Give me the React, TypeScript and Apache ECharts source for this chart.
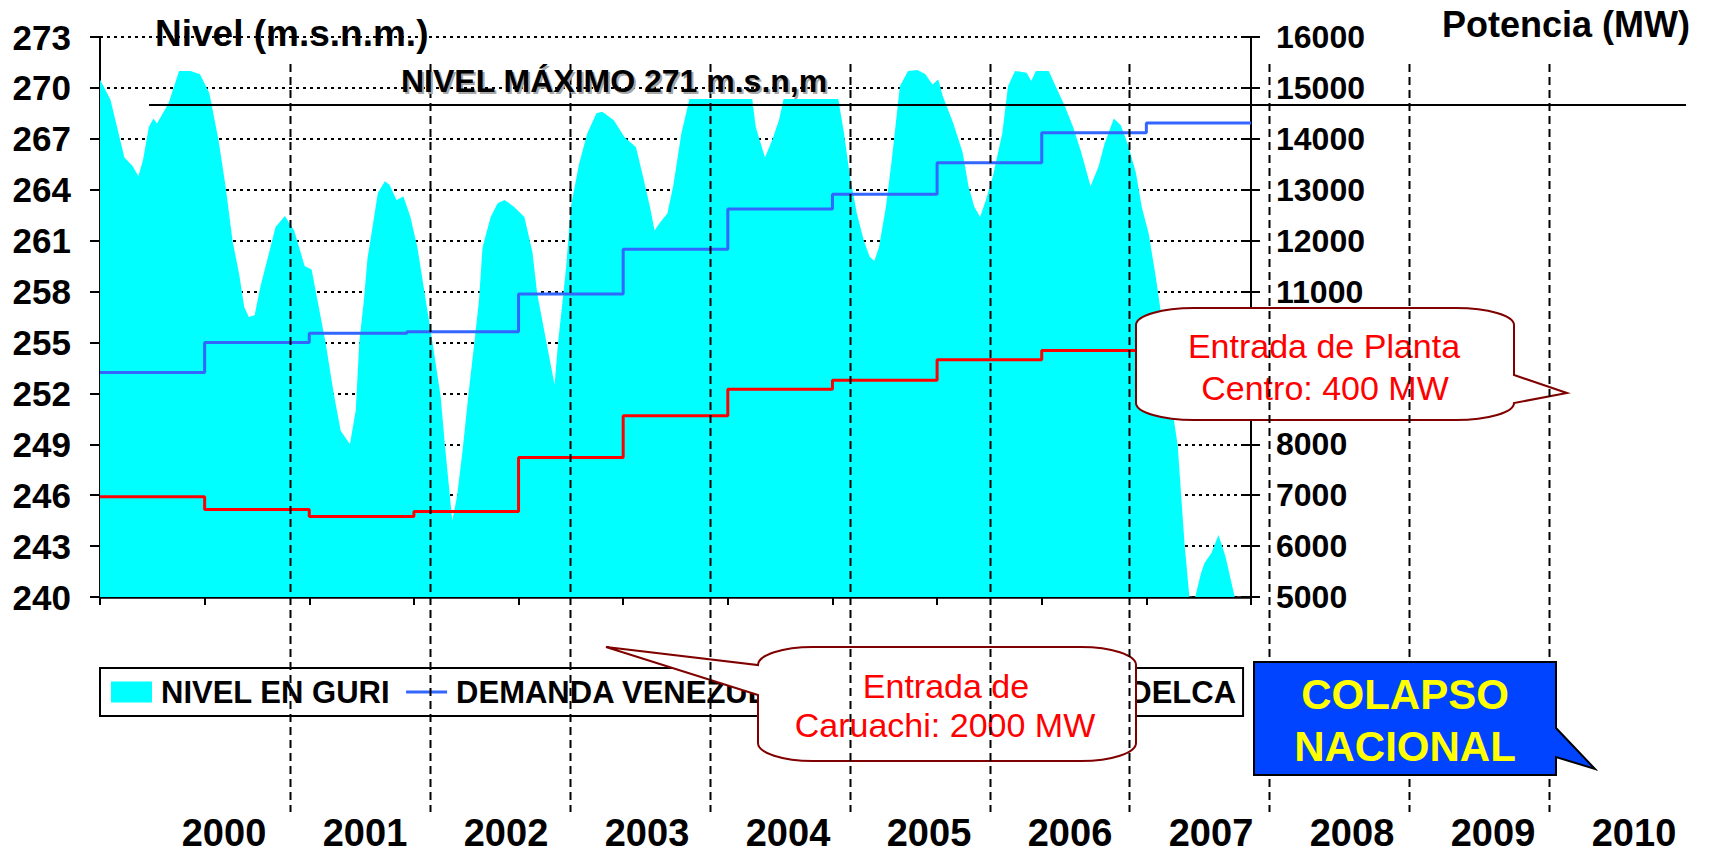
import React, { useEffect, useRef } from "react";
import * as echarts from "echarts";

// ---------- DATA ----------
// Months since the start of the series (axis ticks every 9 months)
const MESES_NIVEL = [
  0, 0.9, 2.1, 2.8, 3.3, 3.7, 4.2, 4.6, 4.9, 5.9, 6.8, 7.8, 8.6, 9.4, 10.2, 10.8, 11.4, 12.0, 12.4, 12.8,
  13.3, 13.8, 14.4, 15.1, 15.9, 16.7, 17.6, 18.2, 18.7, 19.4, 20.1, 20.7, 21.5, 22.0, 22.3, 22.7, 23.0,
  23.9, 24.5, 24.9, 25.5, 26.1, 26.7, 27.3, 27.9, 28.6, 29.3, 29.7, 30.1, 30.3, 30.7, 31.2, 31.7, 32.2,
  32.6, 32.9, 33.6, 34.2, 34.8, 35.6, 36.5, 37.2, 37.6, 38.4, 39.1, 39.4, 39.8, 40.1, 40.5, 41.2, 41.9,
  42.7, 43.2, 44.2, 45.1, 46.1, 46.7, 47.3, 47.7, 48.2, 48.8, 49.3, 50.0, 50.7, 56.1, 56.4, 57.2, 57.8,
  58.4, 58.8, 63.5, 64.0, 64.5, 65.1, 65.7, 66.2, 66.6, 67.0, 67.6, 68.1, 68.8, 69.5, 70.3, 71.0, 71.6,
  72.1, 72.5, 73.4, 74.2, 74.7, 75.2, 75.7, 76.2, 76.8, 77.6, 78.1, 78.7, 79.7, 80.1, 80.5, 81.6, 82.2,
  83.0, 83.7, 84.4, 85.2, 85.9, 86.4, 87.2, 87.8, 88.4, 89.1, 89.6, 90.2, 90.8, 91.2, 92.4, 92.7, 93.0,
  93.3, 93.7, 94.2, 94.7, 95.0, 95.6, 96.2, 96.8, 97.2, 97.6,
];
const NIVEL_GURI = [
  270.5, 269.3, 265.9, 265.4, 264.8, 265.75, 267.7, 268.2, 267.9, 269.1, 271.0, 271.0, 270.8, 269.7, 266.9,
  264.2, 261.0, 258.9, 257.1, 256.5, 256.6, 258.3, 259.9, 261.8, 262.45, 261.6, 259.5, 259.3, 257.5, 255.0,
  252.0, 249.8, 249.0, 251.0, 255.0, 257.5, 259.9, 263.8, 264.5, 264.3, 263.4, 263.6, 262.4, 260.6, 258.0,
  255.0, 251.8, 248.7, 245.9, 244.5, 245.9, 248.7, 252.0, 255.0, 257.5, 260.6, 262.4, 263.2, 263.4, 263.0,
  262.4, 260.3, 257.9, 255.0, 252.5, 255.0, 257.5, 259.5, 263.0, 265.5, 267.3, 268.5, 268.6, 268.1, 267.1,
  266.5, 264.8, 263.0, 261.6, 262.1, 262.6, 264.2, 267.3, 269.35, 269.35, 267.7, 265.9, 266.9, 268.1,
  269.35, 269.35, 267.3, 264.8, 262.6, 261.0, 260.05, 259.8, 260.6, 263.0, 265.75, 270.1, 271.0, 271.05,
  270.8, 270.2, 270.5, 269.5, 267.9, 266.2, 264.2, 263.0, 262.4, 263.4, 264.8, 267.3, 270.1, 271.0, 270.9,
  270.4, 271.0, 271.0, 270.1, 268.9, 267.7, 266.2, 264.2, 265.4, 266.7, 268.2, 267.8, 266.7, 265.0, 263.0,
  261.4, 258.9, 257.0, 250.3, 248.9, 245.9, 243.0, 240.0, 240.0, 241.4, 242.0, 242.6, 243.65, 242.4,
  241.2, 240.0,
];

const MESES_DEMANDA = [0, 9, 18, 26.4, 36, 45, 54, 63, 72, 81, 90, 99];
const DEMANDA_VENEZUELA = [9410, 10000, 10180, 10210, 10950, 11830, 12620, 12910, 13530, 14120, 14310, 14310];

const MESES_EDELCA = [0, 9, 18, 27, 36, 45, 54, 63, 72, 81, 99];
const GENERACION_EDELCA = [6970, 6720, 6580, 6680, 7740, 8560, 9080, 9260, 9660, 9840, 9840];

const ANIOS = ["2000", "2001", "2002", "2003", "2004", "2005", "2006", "2007", "2008", "2009", "2010"];

const NIVEL_MIN = 240;
const NIVEL_MAX = 273;
const NIVEL_PASO = 3;
const POTENCIA_MIN = 5000;
const POTENCIA_MAX = 16000;
const POTENCIA_PASO = 1000;
// tick labels hidden behind the "Planta Centro" callout in the original
const POTENCIA_OCULTAS = [9000, 10000];
const MES_MAX = 99;
const MES_PASO = 9;
const NIVEL_MAXIMO = 269;

const SERIE_NIVEL = "NIVEL EN GURI";
const SERIE_DEMANDA = "DEMANDA VENEZUELA";
const SERIE_EDELCA = "GENERACIÓN EDELCA";

// ---------- SHAPES ----------
const FONT = "'Liberation Sans', Arial, Helvetica, sans-serif";

function calloutPath(
  L: number, T: number, R: number, B: number, rx: number, ry: number,
  side: "left" | "right", y1: number, tipX: number, tipY: number, y2: number
) {
  const k = 0.5523;
  const p: string[] = [];
  p.push(`M${L + rx},${T}`);
  p.push(`L${R - rx},${T}`);
  p.push(`C${R - rx + k * rx},${T} ${R},${T + ry - k * ry} ${R},${T + ry}`);
  if (side === "right") p.push(`L${R},${y1}`, `L${tipX},${tipY}`, `L${R},${y2}`);
  p.push(`L${R},${B - ry}`);
  p.push(`C${R},${B - ry + k * ry} ${R - rx + k * rx},${B} ${R - rx},${B}`);
  p.push(`L${L + rx},${B}`);
  p.push(`C${L + rx - k * rx},${B} ${L},${B - ry + k * ry} ${L},${B - ry}`);
  if (side === "left") p.push(`L${L},${y2}`, `L${tipX},${tipY}`, `L${L},${y1}`);
  p.push(`L${L},${T + ry}`);
  p.push(`C${L},${T + ry - k * ry} ${L + rx - k * rx},${T} ${L + rx},${T}`);
  p.push("Z");
  return p.join(" ");
}

const PATH_CARUACHI = calloutPath(758, 647, 1136, 761, 55, 18, "left", 665, 606, 647, 695);
const PATH_PLANTA = calloutPath(1136, 308, 1514, 420, 58, 17, "right", 375, 1567, 393, 403);
const PATH_COLAPSO = "M1254,662 L1556,662 L1556,728 L1595,769 L1556,757 L1556,775 L1254,775 Z";

let registered = false;
function registerShapes() {
  if (registered) return;
  registered = true;
  echarts.graphic.registerShape("calloutCaruachi", echarts.graphic.extendPath(PATH_CARUACHI, {}));
  echarts.graphic.registerShape("calloutPlanta", echarts.graphic.extendPath(PATH_PLANTA, {}));
  echarts.graphic.registerShape("calloutColapso", echarts.graphic.extendPath(PATH_COLAPSO, {}));
}

function txt(text: string, x: number, y: number, size: number, opts: any = {}) {
  const align = opts.align || "center";
  return {
    type: "text",
    x,
    y,
    z: opts.z ?? 15,
    silent: true,
    style: {
      text,
      fill: opts.fill || "#000",
      fontSize: size,
      fontWeight: opts.weight || "bold",
      fontFamily: FONT,
      lineHeight: opts.lineHeight ?? Math.round(size * 1.15),
      align,
      textAlign: align,
      verticalAlign: "middle",
      textVerticalAlign: "middle",
    },
  };
}

function buildGraphics(yMax: number) {
  const els: any[] = [];
  // horizontal "nivel máximo" line
  els.push({
    type: "line",
    z: 9,
    silent: true,
    shape: { x1: 149, y1: yMax, x2: 1686, y2: yMax },
    style: { stroke: "#000", lineWidth: 2 },
  });
  // red callouts
  const calloutStyle = { fill: "#ffffff", stroke: "#800000", lineWidth: 2 };
  els.push({ type: "calloutCaruachi", x: 0, y: 0, scaleX: 1, scaleY: 1, z: 8, silent: true, style: { ...calloutStyle } });
  els.push({ type: "calloutPlanta", x: 0, y: 0, scaleX: 1, scaleY: 1, z: 8, silent: true, style: { ...calloutStyle } });
  els.push(txt("Entrada de", 946, 686, 34, { fill: "#FF0000", weight: "normal", z: 9 }));
  els.push(txt("Caruachi: 2000 MW", 945, 725, 34, { fill: "#FF0000", weight: "normal", z: 9 }));
  els.push(txt("Entrada de Planta", 1324, 346, 34, { fill: "#FF0000", weight: "normal", z: 9 }));
  els.push(txt("Centro: 400 MW", 1325, 388, 34, { fill: "#FF0000", weight: "normal", z: 9 }));
  // year separators (dashed)
  for (let i = 0; i < ANIOS.length - 1; i++) {
    const x = Math.round(290 + 139.9 * i) + 0.5;
    els.push({
      type: "line",
      z: 10,
      silent: true,
      shape: { x1: x, y1: 64, x2: x, y2: 812 },
      style: { stroke: "#000", lineWidth: 2, lineDash: [8, 5] },
    });
  }
  // year labels
  ANIOS.forEach((a, i) => els.push(txt(a, 224 + 141 * i, 833, 38, { lineHeight: 30 })));
  // colapso box
  els.push({
    type: "calloutColapso", x: 0, y: 0, scaleX: 1, scaleY: 1, z: 12, silent: true,
    style: { fill: "#0044FF", stroke: "#000", lineWidth: 2 },
  });
  els.push(txt("COLAPSO", 1405, 694, 42, { fill: "#FFFF00", z: 13 }));
  els.push(txt("NACIONAL", 1405, 746, 42, { fill: "#FFFF00", z: 13 }));
  // titles
  els.push(txt("Nivel (m.s.n.m.)", 155, 33, 37, { align: "left" }));
  els.push(txt("Potencia (MW)", 1442, 24, 36, { align: "left" }));
  els.push(txt("NIVEL MÁXIMO 271 m.s.n,m", 403, 83, 32, { align: "left", fill: "#a6a6a6", z: 14 }));
  els.push(txt("NIVEL MÁXIMO 271 m.s.n,m", 401, 81, 32, { align: "left" }));
  return els;
}

function buildOption() {
  const nivel = MESES_NIVEL.map((m, i) => [m, NIVEL_GURI[i]]);
  const demanda = MESES_DEMANDA.map((m, i) => [m, DEMANDA_VENEZUELA[i]]);
  const edelca = MESES_EDELCA.map((m, i) => [m, GENERACION_EDELCA[i]]);
  const axisLabel = { fontWeight: "bold", fontFamily: FONT, color: "#000" };
  return {
    animation: false,
    backgroundColor: "#ffffff",
    grid: { left: 100, right: 460, top: 37, bottom: 256, containLabel: false, outerBoundsMode: "none" },
    legend: {
      left: 100,
      top: 668,
      orient: "horizontal",
      padding: [8, 7, 8, 11],
      itemGap: 16,
      itemWidth: 41,
      itemHeight: 21,
      backgroundColor: "#ffffff",
      borderColor: "#000",
      borderWidth: 2,
      borderRadius: 0,
      selectedMode: false,
      textStyle: {
        fontSize: 31,
        fontWeight: "bold",
        fontFamily: FONT,
        color: "#000",
        lineHeight: 32,
        padding: [0, 0, 0, 4],
      },
      data: [
        { name: SERIE_NIVEL, icon: "rect" },
        {
          name: SERIE_DEMANDA,
          icon: "path://M0,0H41V3H0Z",
          textStyle: { fontSize: 31, fontWeight: "bold", fontFamily: FONT, color: "#000", lineHeight: 32, padding: [0, 13, 0, 4] },
        },
        { name: SERIE_EDELCA, icon: "path://M0,0H41V3H0Z" },
      ],
    },
    xAxis: {
      type: "value",
      min: 0,
      max: MES_MAX,
      interval: MES_PASO,
      axisLine: { show: true, onZero: false, lineStyle: { color: "#000", width: 2.5 } },
      axisTick: { show: true, inside: false, length: 8, lineStyle: { color: "#000", width: 2 } },
      axisLabel: { show: false },
      splitLine: { show: false },
    },
    yAxis: [
      {
        type: "value",
        position: "left",
        min: NIVEL_MIN,
        max: NIVEL_MAX,
        interval: NIVEL_PASO,
        axisLine: { show: true, lineStyle: { color: "#000", width: 2 } },
        axisTick: { show: true, inside: false, length: 10, lineStyle: { color: "#000", width: 2 } },
        axisLabel: { ...axisLabel, fontSize: 35, margin: 29 },
        splitLine: { show: true, lineStyle: { color: "#000", width: 2, type: [3, 4] } },
      },
      {
        type: "value",
        position: "right",
        min: POTENCIA_MIN,
        max: POTENCIA_MAX,
        interval: POTENCIA_PASO,
        axisLine: { show: true, lineStyle: { color: "#000", width: 2 } },
        axisTick: { show: true, inside: false, length: 9, lineStyle: { color: "#000", width: 2 } },
        axisLabel: {
          ...axisLabel,
          fontSize: 32,
          margin: 25,
          formatter: (v: number) => (POTENCIA_OCULTAS.indexOf(v) >= 0 ? "" : String(v)),
        },
        splitLine: { show: false },
      },
      {
        type: "value",
        position: "right",
        offset: 0,
        min: POTENCIA_MIN,
        max: POTENCIA_MAX,
        interval: POTENCIA_PASO,
        axisLine: { show: false },
        axisTick: { show: true, inside: true, length: 9, lineStyle: { color: "#000", width: 2 } },
        axisLabel: { show: false },
        splitLine: { show: false },
      },
    ],
    series: [
      {
        name: SERIE_NIVEL,
        type: "line",
        yAxisIndex: 0,
        data: nivel,
        symbol: "none",
        color: "#00FFFF",
        lineStyle: { width: 0, color: "#00FFFF" },
        areaStyle: { color: "#00FFFF", opacity: 1 },
        itemStyle: { color: "#00FFFF" },
        z: 2,
        silent: true,
      },
      {
        name: SERIE_DEMANDA,
        type: "line",
        yAxisIndex: 1,
        step: "end",
        data: demanda,
        symbol: "none",
        color: "#3366FF",
        lineStyle: { width: 3, color: "#3366FF" },
        itemStyle: { color: "#3366FF" },
        z: 3,
        silent: true,
      },
      {
        name: SERIE_EDELCA,
        type: "line",
        yAxisIndex: 1,
        step: "end",
        data: edelca,
        symbol: "none",
        color: "#FF0000",
        lineStyle: { width: 3, color: "#FF0000" },
        itemStyle: { color: "#FF0000" },
        z: 3,
        silent: true,
      },
    ],
  };
}

export default function App() {
  const ref = useRef<HTMLDivElement>(null);
  useEffect(() => {
    registerShapes();
    const chart = echarts.init(ref.current as HTMLDivElement, null, { renderer: "svg", width: 1711, height: 853 });
    chart.setOption(buildOption() as any);
    const yMax = chart.convertToPixel({ yAxisIndex: 0 }, NIVEL_MAXIMO) as unknown as number;
    chart.setOption({ graphic: { elements: buildGraphics(yMax) } } as any);
    return () => chart.dispose();
  }, []);
  return (
    <div
      ref={ref}
      style={{ position: "fixed", left: 0, top: 0, width: 1711, height: 853, background: "#ffffff" }}
    />
  );
}
